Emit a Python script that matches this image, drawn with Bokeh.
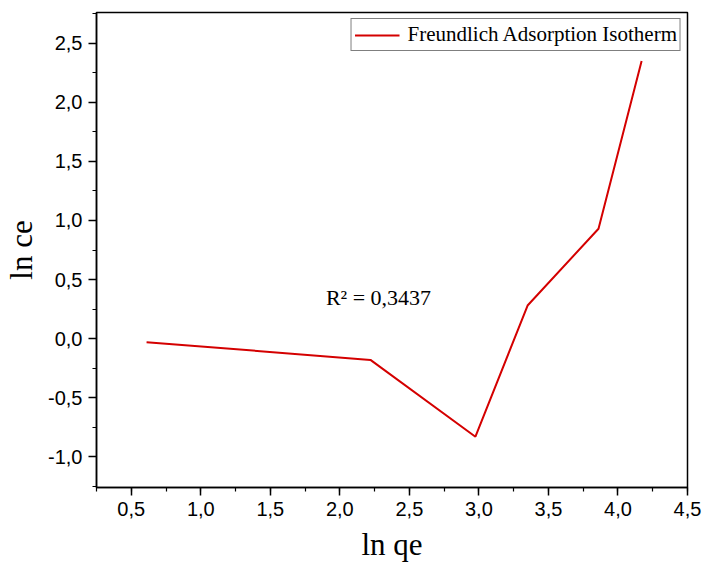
from bokeh.plotting import figure
from bokeh.models import (Range1d, SingleIntervalTicker, CustomJSTickFormatter, Label,
                          Legend, LegendItem, ColumnDataSource)
from bokeh.embed import file_html
from bokeh.resources import INLINE

ln_qe = [0.61, 2.22, 2.975, 3.35, 3.86, 4.17]
ln_ce = [-0.03, -0.18, -0.83, 0.28, 0.93, 2.35]
series_name = "Freundlich Adsorption Isotherm"
r2_text = "R\u00b2 = 0,3437"

p = figure(width=704, height=568, output_backend="svg", toolbar_location=None,
           x_range=Range1d(0.25, 4.5), y_range=Range1d(-1.26, 2.76),
           min_border_left=96, min_border_right=17, min_border_top=12, min_border_bottom=81)
p.grid.visible = False
p.background_fill_color = "white"
p.border_fill_color = "white"
p.outline_line_color = "black"
p.outline_line_width = 1.5

src = ColumnDataSource(dict(x=ln_qe, y=ln_ce))
r = p.line("x", "y", source=src, line_color="#d40000", line_width=2)

fmt = CustomJSTickFormatter(code="return tick.toFixed(1).replace('.', ',');")
for ax, lab in ((p.xaxis[0], "ln qe"), (p.yaxis[0], "ln ce")):
    ax.ticker = SingleIntervalTicker(interval=0.5, num_minor_ticks=2)
    ax.formatter = fmt
    ax.axis_label = lab
    ax.axis_label_text_font = "Liberation Serif"
    ax.axis_label_text_font_size = "31px"
    ax.axis_label_text_font_style = "normal"
    ax.axis_label_text_color = "black"
    ax.major_label_text_font = "Liberation Sans"
    ax.major_label_text_font_size = "20px"
    ax.major_label_text_color = "black"
    ax.axis_line_width = 1.5
    ax.major_tick_line_width = 1.5
    ax.minor_tick_line_width = 1.2
    ax.major_tick_out = 8
    ax.major_tick_in = 0
    ax.minor_tick_out = 4
    ax.minor_tick_in = 0
    ax.major_label_standoff = 6
p.xaxis[0].axis_label_standoff = 8
p.yaxis[0].axis_label_standoff = 6

p.add_layout(Label(x=1.9, y=0.345, text=r2_text, text_font="Liberation Serif",
                   text_font_size="22px", text_baseline="middle", text_color="black"))

legend = Legend(items=[LegendItem(label=series_name, renderers=[r])],
                location="top_right", label_text_font="Liberation Serif",
                label_text_font_size="21px", label_text_color="black",
                glyph_width=45, glyph_height=18,
                border_line_color="black", border_line_width=1.2,
                padding=3, spacing=0, margin=6, label_standoff=8,
                background_fill_alpha=1.0)
p.add_layout(legend)

open("out.html", "w").write(file_html(p, INLINE))
